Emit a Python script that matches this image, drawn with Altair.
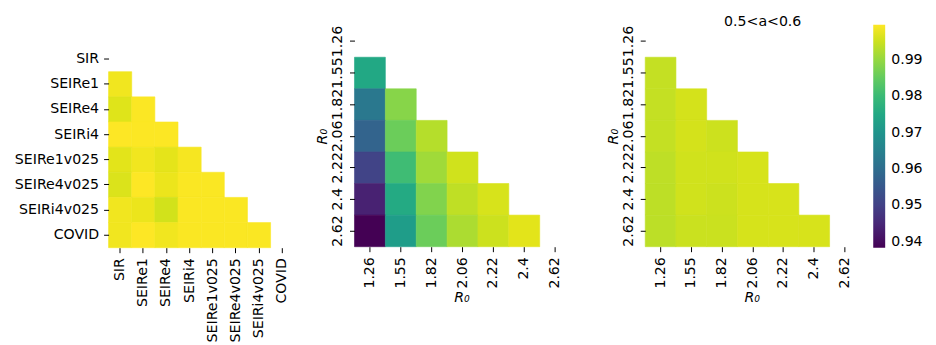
import altair as alt
import pandas as pd

# ---------------- data ----------------
models = ["SIR", "SEIRe1", "SEIRe4", "SEIRi4", "SEIRe1v025", "SEIRe4v025",
          "SEIRi4v025", "COVID"]
model_vals = [
    [],
    [0.9984],
    [0.9967, 0.9994],
    [0.9996, 0.9995, 0.9995],
    [0.9970, 0.9984, 0.9972, 0.9989],
    [0.9963, 0.9996, 0.9979, 0.9993, 0.9993],
    [0.9984, 0.9979, 0.9955, 0.9993, 0.9993, 0.9993],
    [0.9984, 0.9996, 0.9984, 0.9993, 0.9993, 0.9993, 0.9993],
]

r0_labels = ["1.26", "1.55", "1.82", "2.06", "2.22", "2.4", "2.62"]
r0_vals_all = [
    [],
    [0.9751],
    [0.9629, 0.9886],
    [0.9577, 0.9858, 0.9929],
    [0.9506, 0.9806, 0.9910, 0.9953],
    [0.9439, 0.9757, 0.9880, 0.9938, 0.9960],
    [0.9384, 0.9724, 0.9858, 0.9921, 0.9950, 0.9970],
]
r0_vals_a = [
    [],
    [0.9942],
    [0.9942, 0.9957],
    [0.9942, 0.9957, 0.9950],
    [0.9937, 0.9953, 0.9953, 0.9959],
    [0.9936, 0.9953, 0.9950, 0.9959, 0.9960],
    [0.9935, 0.9948, 0.9948, 0.9959, 0.9960, 0.9960],
]

panel3_title = ["0.5<a<0.6"]
cbar_ticks = [0.94, 0.95, 0.96, 0.97, 0.98, 0.99]
axis_title = "R\u2080"


def tidy(labels, rows):
    recs = []
    for i, row in enumerate(rows):
        for j, v in enumerate(row):
            recs.append({"row": labels[i], "col": labels[j], "value": v})
    return pd.DataFrame(recs)


df1 = tidy(models, model_vals)
df2 = tidy(r0_labels, r0_vals_all)
df3 = tidy(r0_labels, r0_vals_a)

all_vals = [v for rows in (model_vals, r0_vals_all, r0_vals_a) for r in rows for v in r]
cmin, cmax = min(all_vals), max(all_vals)

FONT = "DejaVu Sans"
FS = 14.2

color = alt.Color(
    "value:Q",
    scale=alt.Scale(scheme="viridis", domain=[cmin, cmax]),
    legend=alt.Legend(
        orient="none", legendX=768, legendY=-1, direction="vertical",
        gradientLength=224, gradientThickness=12, gradientStrokeWidth=0,
        title=None, values=cbar_ticks, format=".2f", labelFontSize=FS,
        labelFont=FONT, labelColor="#000", labelOffset=6, padding=0,
    ),
)


def heat(df, labels, xrange, yrange, width, height, rotated_y, with_titles):
    xaxis = alt.Axis(labelAngle=270, labelOverlap=False, labelBound=False,
                     title=axis_title if with_titles else None,
                     **({"titleX": xrange[1] / 2 - 1, "titleY": 55,
                         "titleBaseline": "alphabetic", "titleAlign": "center",
                         "titleAngle": 0} if with_titles else {}))
    if rotated_y:
        yaxis = alt.Axis(labelAngle=270, labelAlign="center",
                         labelBaseline="bottom", labelOverlap=False,
                         labelBound=False,
                         title=axis_title,
                         titleX=-28, titleY=(yrange[0] + yrange[1]) / 2,
                         titleBaseline="alphabetic", titleAlign="center",
                         titleAngle=270)
    else:
        yaxis = alt.Axis(labelAngle=0, labelAlign="right",
                         labelBaseline="middle", labelOverlap=False,
                         labelBound=False, title=None)
    return alt.Chart(df).mark_rect(
        strokeWidth=0.6,
        stroke=alt.ExprRef(expr="scale('color', datum.value)"),
    ).encode(
        x=alt.X("col:N", sort=labels,
                scale=alt.Scale(domain=labels, range=xrange,
                                paddingInner=0, paddingOuter=0),
                axis=xaxis),
        y=alt.Y("row:N", sort=labels,
                scale=alt.Scale(domain=labels, range=yrange,
                                paddingInner=0, paddingOuter=0),
                axis=yaxis),
        color=color,
    ).properties(width=width, height=height)


p1 = heat(df1, models, [0, 186], [21, 223], 247, 223, False, False)
p2 = heat(df2, r0_labels, [0, 217], [0, 222], 292, 222, True, True)
p3_map = heat(df3, r0_labels, [0, 216], [0, 222], 216, 222, True, True)
p3_title = alt.Chart(pd.DataFrame({"t": panel3_title})).mark_text(
    font=FONT, fontSize=FS, color="#000", align="center",
    baseline="alphabetic",
).encode(text="t:N", x=alt.value(118), y=alt.value(0))
p3 = alt.layer(p3_map, p3_title)

chart = alt.hconcat(p1, p2, p3, spacing=0, bounds="flush").properties(
    padding={"left": 6, "top": 6, "right": 5, "bottom": 5}
).configure_axis(
    labelFont=FONT, labelFontSize=FS, labelColor="#000",
    titleFont=FONT, titleFontSize=FS, titleColor="#000",
    titleFontStyle="italic", titleFontWeight="normal",
    tickColor="#000", tickSize=5, tickWidth=1, labelPadding=5,
    domain=False, grid=False,
).configure_view(strokeWidth=0)

chart.save("out.html", embed_options={"renderer": "svg", "actions": False})
